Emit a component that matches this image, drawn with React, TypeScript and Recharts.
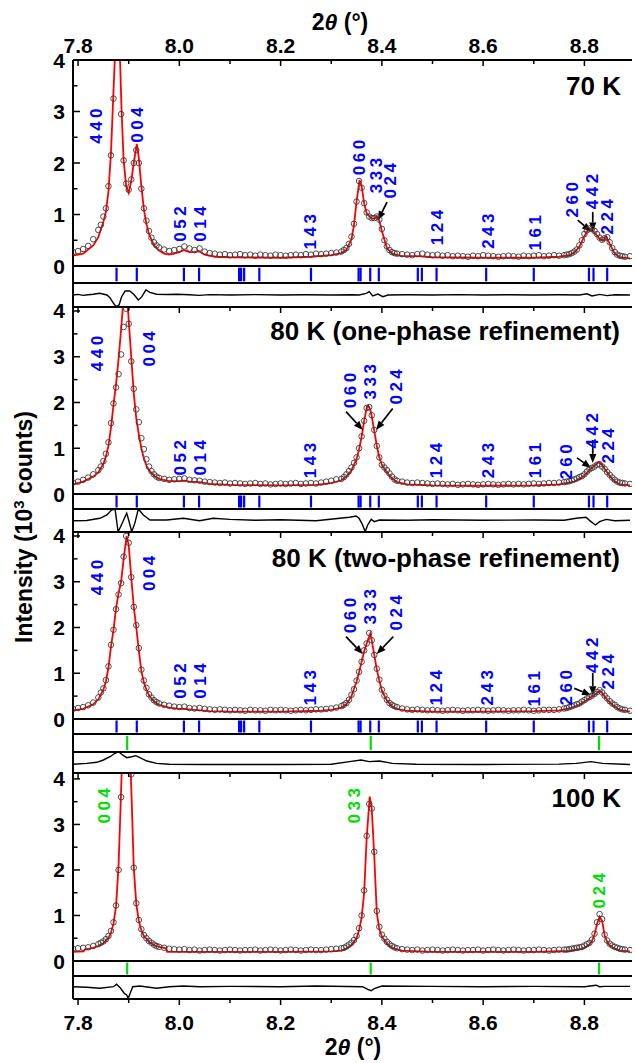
import React from "react";
import { ComposedChart, Line, Scatter, XAxis, YAxis, ReferenceLine } from "recharts";

const FONT = "'Liberation Sans', Arial, Helvetica, sans-serif";
const W = 636;
const X_DOMAIN: [number, number] = [7.79, 8.894];
const X_TICKS = [7.8, 7.9, 8.0, 8.1, 8.2, 8.3, 8.4, 8.5, 8.6, 8.7, 8.8];
const Y_TICKS = [0, 0.5, 1, 1.5, 2, 2.5, 3, 3.5, 4];
const BLUE = "#0000ff";
const GREEN = "#00dd00";
const RED = "#ff0000";

// 2theta grid of the observed points (finer around the peaks)
const THETA = [
  7.79, 7.8, 7.81, 7.82, 7.83,
  7.84, 7.845, 7.85, 7.855, 7.86, 7.865, 7.87, 7.875, 7.88, 7.885, 7.89, 7.895, 7.9, 7.905, 7.91, 7.915, 7.92, 7.925, 7.93, 7.935, 7.94, 7.945, 7.95, 7.955,
  7.96, 7.97, 7.98, 7.99, 8.0, 8.01, 8.02, 8.03, 8.04, 8.05, 8.06, 8.07, 8.08, 8.09, 8.1, 8.11, 8.12, 8.13, 8.14, 8.15, 8.16, 8.17, 8.18, 8.19, 8.2, 8.21, 8.22, 8.23, 8.24, 8.25, 8.26, 8.27, 8.28, 8.29, 8.3, 8.31,
  8.32, 8.325, 8.33, 8.335, 8.34, 8.345, 8.35, 8.355, 8.36, 8.365, 8.37, 8.375, 8.38, 8.385, 8.39, 8.395, 8.4, 8.405, 8.41, 8.415, 8.42, 8.425,
  8.43, 8.44, 8.45, 8.46, 8.47, 8.48, 8.49, 8.5, 8.51, 8.52, 8.53, 8.54, 8.55, 8.56, 8.57, 8.58, 8.59, 8.6, 8.61, 8.62, 8.63, 8.64, 8.65, 8.66, 8.67, 8.68, 8.69, 8.7, 8.71, 8.72, 8.73, 8.74, 8.75,
  8.76, 8.765, 8.77, 8.775, 8.78, 8.785, 8.79, 8.795, 8.8, 8.805, 8.81, 8.815, 8.82, 8.825, 8.83, 8.835, 8.84, 8.845, 8.85, 8.855, 8.86, 8.865, 8.87, 8.875,
  8.88, 8.89,
];

// observed intensities (10^3 counts) on THETA
const OBS_70K = [
  0.27, 0.29, 0.33, 0.39, 0.52,
  0.7, 0.8, 0.96, 1.12, 1.55, 2.15, 3.25, 4.3, 4.2, 2.95, 2.05, 1.6, 1.48, 1.68, 2.0, 2.25, 2.0, 1.5, 1.12, 0.88, 0.68, 0.55, 0.46, 0.4,
  0.36, 0.32, 0.29, 0.31, 0.33, 0.38, 0.34, 0.31, 0.34, 0.28, 0.25, 0.24, 0.22, 0.23, 0.21, 0.22, 0.23, 0.21, 0.22, 0.2, 0.22, 0.21, 0.2, 0.22, 0.21, 0.2, 0.21, 0.22, 0.21, 0.23, 0.22, 0.24, 0.23, 0.24, 0.25, 0.26,
  0.28, 0.31, 0.35, 0.43, 0.57, 0.82, 1.25, 1.65, 1.52, 1.22, 1.04, 0.96, 0.93, 0.93, 0.96, 0.9, 0.72, 0.5, 0.38, 0.31, 0.27, 0.25,
  0.24, 0.23, 0.22, 0.21, 0.23, 0.24, 0.22, 0.21, 0.22, 0.2, 0.21, 0.19, 0.2, 0.19, 0.18, 0.2, 0.19, 0.21, 0.2, 0.19, 0.18, 0.19, 0.2, 0.19, 0.18, 0.2, 0.19, 0.2, 0.21, 0.19, 0.2, 0.21, 0.2,
  0.21, 0.22, 0.23, 0.25, 0.28, 0.32, 0.4, 0.5, 0.62, 0.69, 0.73, 0.72, 0.68, 0.62, 0.55, 0.51, 0.54, 0.56, 0.46, 0.35, 0.27, 0.22, 0.2, 0.19,
  0.18, 0.19,
];
const OBS_80K_ONE = [
  0.25, 0.27, 0.31, 0.36, 0.43,
  0.52, 0.6, 0.72, 0.88, 1.13, 1.55, 1.98, 2.33, 2.62, 3.05, 3.65, 4.05, 3.72, 2.9, 2.3, 1.85, 1.57, 1.22, 0.98, 0.76, 0.6, 0.5, 0.43, 0.38,
  0.35, 0.33, 0.31, 0.32, 0.33, 0.34, 0.31, 0.3, 0.29, 0.27, 0.26, 0.25, 0.24, 0.25, 0.23, 0.24, 0.23, 0.22, 0.23, 0.24, 0.22, 0.23, 0.21, 0.22, 0.23, 0.22, 0.23, 0.24, 0.22, 0.23, 0.24, 0.23, 0.25, 0.27, 0.29, 0.32,
  0.33, 0.37, 0.43, 0.5, 0.58, 0.68, 0.8, 1.0, 1.26, 1.6, 1.88, 1.9, 1.72, 1.4, 1.05, 0.8, 0.64, 0.58, 0.52, 0.45, 0.38, 0.32,
  0.29, 0.27, 0.25, 0.24, 0.25, 0.24, 0.23, 0.22, 0.23, 0.22, 0.21, 0.22, 0.2, 0.21, 0.22, 0.21, 0.2, 0.21, 0.22, 0.21, 0.2, 0.21, 0.22, 0.21, 0.22, 0.21, 0.22, 0.23, 0.22, 0.23, 0.24, 0.24, 0.25,
  0.26, 0.27, 0.28, 0.3, 0.32, 0.34, 0.37, 0.39, 0.43, 0.49, 0.54, 0.57, 0.6, 0.64, 0.65, 0.6, 0.55, 0.48, 0.42, 0.36, 0.31, 0.27, 0.25, 0.24,
  0.23, 0.22,
];
const OBS_80K_TWO = [
  0.22, 0.24, 0.26, 0.3, 0.36,
  0.47, 0.58, 0.67, 0.85, 1.15, 1.62, 1.95, 2.4, 2.72, 2.97, 3.55, 4.0, 3.85, 3.1, 2.45, 2.05, 1.55, 1.08, 0.84, 0.68, 0.54, 0.47, 0.41, 0.37,
  0.34, 0.31, 0.29, 0.27, 0.26, 0.27, 0.24, 0.23, 0.24, 0.22, 0.21, 0.2, 0.21, 0.2, 0.19, 0.2, 0.19, 0.18, 0.2, 0.19, 0.19, 0.18, 0.2, 0.19, 0.2, 0.19, 0.18, 0.19, 0.2, 0.19, 0.2, 0.21, 0.21, 0.22, 0.23, 0.25,
  0.28, 0.31, 0.35, 0.42, 0.53, 0.65, 0.84, 1.03, 1.25, 1.5, 1.65, 1.88, 1.72, 1.4, 1.1, 0.86, 0.64, 0.51, 0.42, 0.35, 0.31, 0.28,
  0.26, 0.23, 0.21, 0.2, 0.21, 0.2, 0.19, 0.2, 0.19, 0.18, 0.19, 0.2, 0.19, 0.18, 0.19, 0.19, 0.2, 0.19, 0.18, 0.19, 0.2, 0.19, 0.18, 0.19, 0.19, 0.2, 0.19, 0.18, 0.19, 0.2, 0.2, 0.2, 0.21,
  0.23, 0.24, 0.26, 0.28, 0.3, 0.32, 0.34, 0.38, 0.41, 0.45, 0.48, 0.51, 0.55, 0.59, 0.63, 0.58, 0.51, 0.45, 0.39, 0.34, 0.31, 0.26, 0.23, 0.21,
  0.2, 0.18,
];
const OBS_100K = [
  0.27, 0.28, 0.29, 0.3, 0.33,
  0.37, 0.4, 0.43, 0.48, 0.55, 0.66, 0.85, 1.22, 2.0, 3.6, 4.6, 5.2, 4.9, 4.1, 2.05, 1.27, 0.9, 0.7, 0.57, 0.5, 0.44, 0.4, 0.36, 0.33,
  0.31, 0.29, 0.27, 0.26, 0.25, 0.26, 0.24, 0.25, 0.23, 0.24, 0.25, 0.24, 0.23, 0.24, 0.25, 0.24, 0.23, 0.24, 0.24, 0.25, 0.23, 0.24, 0.25, 0.24, 0.23, 0.24, 0.25, 0.24, 0.23, 0.24, 0.25, 0.24, 0.24, 0.25, 0.26, 0.27,
  0.28, 0.29, 0.32, 0.36, 0.4, 0.46, 0.55, 0.72, 1.0, 1.55, 2.75, 3.45, 3.35, 2.4, 1.1, 0.75, 0.58, 0.49, 0.42, 0.37, 0.33, 0.3,
  0.28, 0.26, 0.25, 0.24, 0.25, 0.23, 0.24, 0.25, 0.24, 0.23, 0.24, 0.25, 0.24, 0.23, 0.24, 0.24, 0.25, 0.23, 0.24, 0.25, 0.24, 0.23, 0.24, 0.25, 0.24, 0.23, 0.24, 0.24, 0.25, 0.24, 0.23, 0.24, 0.25,
  0.25, 0.25, 0.26, 0.27, 0.28, 0.29, 0.3, 0.31, 0.34, 0.37, 0.4, 0.47, 0.6, 0.85, 1.03, 0.92, 0.58, 0.45, 0.38, 0.34, 0.31, 0.29, 0.27, 0.26,
  0.25, 0.24,
];

// calculated profiles [2theta, I]
const CALC_70K = [
  [7.79, 0.2], [7.81, 0.24], [7.83, 0.4], [7.84, 0.56], [7.85, 0.86], [7.855, 1.05], [7.86, 1.45], [7.865, 2.2], [7.87, 3.4],
  [7.875, 4.6], [7.878, 4.8], [7.882, 4.3], [7.886, 3.0], [7.89, 2.05], [7.895, 1.55], [7.9, 1.42], [7.905, 1.65], [7.91, 2.0],
  [7.916, 2.37], [7.92, 2.1], [7.925, 1.55], [7.93, 1.1], [7.935, 0.82], [7.94, 0.62], [7.95, 0.4], [7.96, 0.3], [7.97, 0.24],
  [7.98, 0.22], [7.99, 0.24], [8.0, 0.27], [8.009, 0.31], [8.02, 0.27], [8.03, 0.27], [8.038, 0.29], [8.05, 0.22], [8.07, 0.18],
  [8.1, 0.17], [8.2, 0.16], [8.26, 0.18], [8.3, 0.21], [8.32, 0.25], [8.33, 0.31], [8.34, 0.52], [8.345, 0.8], [8.35, 1.25],
  [8.356, 1.67], [8.36, 1.55], [8.365, 1.22], [8.37, 1.02], [8.38, 0.92], [8.385, 0.92], [8.39, 0.97], [8.395, 0.88], [8.4, 0.68],
  [8.41, 0.35], [8.42, 0.24], [8.44, 0.19], [8.47, 0.19], [8.5, 0.17], [8.6, 0.16], [8.7, 0.16], [8.75, 0.18], [8.77, 0.21],
  [8.78, 0.26], [8.79, 0.37], [8.8, 0.58], [8.806, 0.68], [8.812, 0.72], [8.82, 0.65], [8.83, 0.53], [8.836, 0.49], [8.843, 0.57],
  [8.85, 0.43], [8.86, 0.24], [8.87, 0.17], [8.89, 0.15],
];
const CALC_80K_ONE = [
  [7.79, 0.21], [7.81, 0.27], [7.83, 0.38], [7.84, 0.47], [7.85, 0.66], [7.855, 0.82], [7.86, 1.05], [7.865, 1.45], [7.87, 1.95],
  [7.875, 2.4], [7.88, 2.95], [7.885, 3.6], [7.89, 4.3], [7.893, 4.5], [7.897, 4.3], [7.9, 3.8], [7.905, 3.0], [7.91, 2.2],
  [7.915, 1.65], [7.92, 1.3], [7.925, 1.0], [7.93, 0.78], [7.935, 0.62], [7.94, 0.52], [7.95, 0.4], [7.96, 0.33], [7.98, 0.28],
  [8.0, 0.28], [8.01, 0.29], [8.02, 0.27], [8.04, 0.26], [8.06, 0.22], [8.1, 0.2], [8.2, 0.19], [8.27, 0.2], [8.3, 0.24],
  [8.32, 0.3], [8.33, 0.38], [8.34, 0.52], [8.35, 0.76], [8.355, 0.98], [8.36, 1.25], [8.365, 1.6], [8.37, 1.88], [8.373, 1.93],
  [8.377, 1.85], [8.38, 1.7], [8.385, 1.38], [8.39, 1.05], [8.395, 0.8], [8.4, 0.64], [8.405, 0.55], [8.41, 0.47], [8.42, 0.34],
  [8.43, 0.26], [8.45, 0.21], [8.5, 0.19], [8.6, 0.18], [8.7, 0.19], [8.75, 0.21], [8.78, 0.27], [8.8, 0.4], [8.81, 0.52],
  [8.82, 0.62], [8.829, 0.7], [8.835, 0.64], [8.84, 0.55], [8.85, 0.39], [8.86, 0.27], [8.87, 0.21], [8.89, 0.19],
];
const CALC_80K_TWO = [
  [7.79, 0.19], [7.81, 0.22], [7.83, 0.32], [7.84, 0.43], [7.85, 0.64], [7.855, 0.82], [7.86, 1.12], [7.865, 1.58], [7.87, 1.95],
  [7.875, 2.42], [7.88, 2.75], [7.885, 3.0], [7.89, 3.5], [7.896, 4.0], [7.9, 3.8], [7.905, 3.1], [7.91, 2.45], [7.915, 2.0],
  [7.92, 1.5], [7.925, 1.05], [7.93, 0.8], [7.935, 0.64], [7.94, 0.52], [7.95, 0.38], [7.96, 0.31], [7.98, 0.25], [8.0, 0.22],
  [8.01, 0.22], [8.03, 0.2], [8.06, 0.17], [8.1, 0.16], [8.2, 0.16], [8.28, 0.18], [8.3, 0.2], [8.32, 0.25], [8.33, 0.32],
  [8.34, 0.5], [8.35, 0.82], [8.355, 1.02], [8.36, 1.25], [8.365, 1.48], [8.37, 1.65], [8.377, 1.87], [8.38, 1.72], [8.385, 1.4],
  [8.39, 1.08], [8.395, 0.84], [8.4, 0.62], [8.41, 0.4], [8.42, 0.28], [8.43, 0.22], [8.45, 0.18], [8.5, 0.16], [8.6, 0.16],
  [8.7, 0.17], [8.75, 0.19], [8.77, 0.23], [8.79, 0.31], [8.8, 0.38], [8.81, 0.46], [8.82, 0.53], [8.83, 0.62], [8.835, 0.57],
  [8.84, 0.49], [8.85, 0.36], [8.86, 0.27], [8.87, 0.2], [8.89, 0.16],
];
const CALC_100K = [
  [7.79, 0.2], [7.811, 0.21], [7.813, 0.25], [7.83, 0.29], [7.84, 0.33], [7.85, 0.39], [7.86, 0.5], [7.865, 0.62], [7.87, 0.82],
  [7.875, 1.2], [7.88, 2.1], [7.884, 3.4], [7.888, 4.8], [7.895, 5.6], [7.902, 4.8], [7.906, 3.5], [7.91, 2.05], [7.915, 1.25],
  [7.92, 0.88], [7.925, 0.67], [7.93, 0.55], [7.94, 0.42], [7.95, 0.35], [7.96, 0.31], [7.974, 0.28], [7.976, 0.2], [8.0, 0.2],
  [8.1, 0.2], [8.2, 0.2], [8.3, 0.21], [8.32, 0.23], [8.33, 0.27], [8.34, 0.35], [8.35, 0.5], [8.355, 0.68], [8.36, 0.95],
  [8.365, 1.5], [8.37, 2.7], [8.376, 3.61], [8.38, 3.35], [8.385, 2.3], [8.39, 1.05], [8.395, 0.7], [8.4, 0.54], [8.41, 0.38],
  [8.42, 0.29], [8.44, 0.23], [8.5, 0.2], [8.6, 0.2], [8.7, 0.2], [8.77, 0.22], [8.79, 0.26], [8.8, 0.29], [8.81, 0.36],
  [8.815, 0.44], [8.82, 0.58], [8.825, 0.82], [8.83, 0.97], [8.835, 0.88], [8.84, 0.56], [8.845, 0.42], [8.85, 0.34],
  [8.86, 0.27], [8.87, 0.23], [8.89, 0.21],
];

// difference curves [2theta, value in strip units, -1..1]
const DIFF_70K = [
  [7.79, 0.0], [7.8, 0.05], [7.81, -0.03], [7.82, 0.02], [7.83, 0.06], [7.843, 0.14], [7.857, 0.0], [7.863, -0.22], [7.87, -0.69],
  [7.875, -0.97], [7.881, -0.83], [7.886, -0.14], [7.893, 0.33], [7.902, 0.33], [7.91, 0.06], [7.919, -0.42], [7.926, -0.14],
  [7.934, 0.42], [7.942, 0.22], [7.955, 0.06], [7.975, 0.04], [7.995, 0.06], [8.02, 0.02], [8.04, -0.03], [8.06, 0.03], [8.1, 0.0],
  [8.15, 0.03], [8.2, 0.0], [8.25, 0.02], [8.3, 0.0], [8.34, 0.02], [8.355, 0.0], [8.369, 0.14], [8.375, 0.28], [8.382, -0.08],
  [8.392, 0.08], [8.402, -0.14], [8.412, 0.0], [8.45, 0.02], [8.5, 0.0], [8.55, 0.03], [8.6, 0.0], [8.65, 0.02], [8.7, 0.0],
  [8.75, 0.02], [8.79, 0.0], [8.805, 0.1], [8.815, -0.08], [8.83, 0.05], [8.845, -0.05], [8.86, 0.02], [8.89, 0.0],
];
const DIFF_80K_ONE = [
  [7.79, -0.02], [7.817, 0.0], [7.843, 0.19], [7.857, 0.48], [7.866, 0.91], [7.873, 1.0], [7.879, -0.97], [7.884, -0.54],
  [7.896, 0.63], [7.899, 0.19], [7.906, -0.97], [7.912, -0.25], [7.919, 1.0], [7.929, 0.48], [7.942, 0.04], [7.975, 0.04],
  [8.008, 0.19], [8.04, -0.02], [8.067, 0.19], [8.1, 0.1], [8.15, 0.02], [8.2, 0.06], [8.27, -0.02], [8.336, 0.28], [8.349, 0.39],
  [8.355, 0.19], [8.362, -0.39], [8.367, -0.97], [8.372, -0.39], [8.379, 0.1], [8.385, -0.1], [8.395, 0.04], [8.45, 0.02],
  [8.5, 0.06], [8.6, 0.02], [8.7, 0.04], [8.76, 0.02], [8.784, 0.19], [8.803, 0.28], [8.813, -0.1], [8.822, -0.39], [8.83, -0.1],
  [8.843, 0.1], [8.86, -0.02], [8.89, 0.02],
];
const DIFF_80K_TWO = [
  [7.79, -0.17], [7.817, -0.08], [7.837, 0.02], [7.85, 0.24], [7.863, 0.55], [7.873, 0.88], [7.88, 1.03], [7.886, 0.78],
  [7.896, 0.46], [7.906, 0.55], [7.914, 0.65], [7.922, 0.46], [7.936, 0.14], [7.955, -0.08], [7.98, -0.17], [8.05, -0.19],
  [8.2, -0.19], [8.3, -0.17], [8.336, 0.08], [8.359, 0.24], [8.375, 0.08], [8.395, 0.14], [8.421, -0.08], [8.468, -0.17],
  [8.6, -0.19], [8.75, -0.15], [8.784, -0.08], [8.813, 0.08], [8.836, -0.08], [8.876, -0.17], [8.89, -0.19],
];
const DIFF_100K = [
  [7.79, 0.07], [7.817, 0.02], [7.843, -0.07], [7.87, 0.07], [7.876, 0.28], [7.884, -0.07], [7.891, -0.5], [7.896, -0.65],
  [7.899, -0.94], [7.903, -0.5], [7.908, 0.07], [7.922, 0.13], [7.955, -0.07], [7.98, 0.07], [8.008, 0.13], [8.04, 0.07],
  [8.1, 0.1], [8.2, 0.07], [8.27, 0.13], [8.362, 0.07], [8.372, -0.16], [8.379, -0.28], [8.385, -0.1], [8.4, 0.13], [8.5, 0.1],
  [8.6, 0.07], [8.7, 0.1], [8.8, 0.07], [8.823, 0.2], [8.83, 0.07], [8.84, 0.1], [8.89, 0.1],
];

// Bragg reflection positions
const MAIN_PHASE_PEAKS = [
  7.876, 7.916, 8.009, 8.039, 8.118, 8.122, 8.128, 8.158, 8.26, 8.354, 8.358, 8.377, 8.394, 8.471, 8.479, 8.508, 8.606, 8.7,
  8.809, 8.818, 8.845,
];
const SECOND_PHASE_PEAKS = [7.897, 8.378, 8.829];

// hkl labels, placed at [2theta, I]
const HKL_70K = [
  { t: 7.836, v: 2.75, text: "440" }, { t: 7.9164, v: 2.77, text: "004" }, { t: 8.003, v: 0.85, text: "052" },
  { t: 8.0424, v: 0.85, text: "014" }, { t: 8.26, v: 0.7, text: "143" }, { t: 8.355, v: 2.14, text: "060" },
  { t: 8.3885, v: 1.79, text: "333" }, { t: 8.418, v: 1.69, text: "024" }, { t: 8.5103, v: 0.78, text: "124" },
  { t: 8.6097, v: 0.71, text: "243" }, { t: 8.7035, v: 0.68, text: "161" }, { t: 8.7756, v: 1.32, text: "260" },
  { t: 8.8157, v: 1.48, text: "442" }, { t: 8.8453, v: 0.99, text: "224" },
];
const HKL_80K_ONE = [
  { t: 7.839, v: 3.11, text: "440" }, { t: 7.942, v: 3.21, text: "004" }, { t: 8.0033, v: 0.83, text: "052" },
  { t: 8.0424, v: 0.83, text: "014" }, { t: 8.26, v: 0.77, text: "143" }, { t: 8.3371, v: 2.3, text: "060" },
  { t: 8.3782, v: 2.49, text: "333" }, { t: 8.428, v: 2.38, text: "024" }, { t: 8.5083, v: 0.77, text: "124" },
  { t: 8.6097, v: 0.77, text: "243" }, { t: 8.7025, v: 0.77, text: "161" }, { t: 8.7637, v: 0.74, text: "260" },
  { t: 8.8157, v: 1.42, text: "442" }, { t: 8.8467, v: 1.09, text: "224" },
];
const HKL_80K_TWO = [
  { t: 7.839, v: 3.13, text: "440" }, { t: 7.942, v: 3.22, text: "004" }, { t: 8.0033, v: 0.87, text: "052" },
  { t: 8.0424, v: 0.87, text: "014" }, { t: 8.26, v: 0.72, text: "143" }, { t: 8.3377, v: 2.3, text: "060" },
  { t: 8.3782, v: 2.49, text: "333" }, { t: 8.428, v: 2.36, text: "024" }, { t: 8.5083, v: 0.72, text: "124" },
  { t: 8.6077, v: 0.72, text: "243" }, { t: 8.7005, v: 0.7, text: "161" }, { t: 8.7637, v: 0.72, text: "260" },
  { t: 8.8157, v: 1.43, text: "442" }, { t: 8.8467, v: 1.07, text: "224" },
];
const HKL_100K = [
  { t: 7.8532, v: 3.45, text: "004" }, { t: 8.345, v: 3.45, text: "033" }, { t: 8.829, v: 1.58, text: "024" },
];

// arrows [2theta from, I from, 2theta to, I to]
const ARROWS_70K = [
  [8.4102, 1.24, 8.3924, 0.89], [8.7868, 0.89, 8.8131, 0.67], [8.8165, 1.05, 8.8165, 0.67],
];
const ARROWS_80K_ONE = [
  [8.3292, 1.8, 8.3622, 1.4], [8.4214, 1.87, 8.3885, 1.4], [8.8165, 1.18, 8.8165, 0.68], [8.7855, 0.79, 8.8131, 0.57],
];
const ARROWS_80K_TWO = [
  [8.3292, 1.8, 8.3622, 1.42], [8.4226, 1.8, 8.3898, 1.42], [8.8165, 1.01, 8.8165, 0.52], [8.7801, 0.67, 8.8131, 0.52],
];

const obsRows = (vals: number[]) => THETA.map((t, i) => ({ t, v: vals[i] }));
const pairRows = (pairs: number[][]) => pairs.map(([t, v]) => ({ t, v }));

const axisLine = { stroke: "#000", strokeWidth: 2 };
const isMajorX = (v: number) => Math.round(v * 10) % 2 === 0;
const isMajorY = (v: number) => Math.abs(v - Math.round(v)) < 1e-6;

const TopTick = (p: any, withLabel: boolean) => {
  const v = p.payload.value;
  const major = isMajorX(v);
  return (
    <g>
      <line x1={p.x} x2={p.x} y1={p.y} y2={p.y + (major ? 6 : 4)} stroke="#000" strokeWidth={1.5} />
      {withLabel && major ? (
        <text x={p.x} y={p.y - 7} textAnchor="middle" fontSize={21} fontWeight="bold" fontFamily={FONT} fill="#000">
          {v.toFixed(1)}
        </text>
      ) : null}
    </g>
  );
};

const BottomTick = (p: any) => {
  const v = p.payload.value;
  const major = isMajorX(v);
  return (
    <g>
      <line x1={p.x} x2={p.x} y1={p.y} y2={p.y + (major ? 6 : 4)} stroke="#000" strokeWidth={1.5} />
      {major ? (
        <text x={p.x} y={p.y + 31} textAnchor="middle" fontSize={21} fontWeight="bold" fontFamily={FONT} fill="#000">
          {v.toFixed(1)}
        </text>
      ) : null}
    </g>
  );
};

const LeftTick = (p: any) => {
  const v = p.payload.value;
  const major = isMajorY(v);
  return (
    <g>
      <line x1={p.x} x2={p.x + (major ? 7 : 4.5)} y1={p.y} y2={p.y} stroke="#000" strokeWidth={1.5} />
      {major ? (
        <text x={p.x - 8} y={p.y + 7.5} textAnchor="end" fontSize={21} fontWeight="bold" fontFamily={FONT} fill="#000">
          {v}
        </text>
      ) : null}
    </g>
  );
};

const RightTick = (p: any) => {
  const major = isMajorY(p.payload.value);
  return <line x1={p.x} x2={p.x - (major ? 7 : 4.5)} y1={p.y} y2={p.y} stroke="#000" strokeWidth={1.5} />;
};

const ObsCircle = (p: any) => (
  <circle cx={p.cx} cy={p.cy} r={2.8} fill="none" stroke="#3a3a3a" strokeWidth={0.9} />
);

const hklShape = (color: string) => (p: any) => (
  <text
    x={p.cx}
    y={p.cy}
    transform={`rotate(-90 ${p.cx} ${p.cy})`}
    textAnchor="middle"
    dominantBaseline="central"
    fontSize={17}
    fontWeight="bold"
    fontFamily={FONT}
    letterSpacing={3.5}
    fill={color}
  >
    {p.payload.text}
  </text>
);

const ArrowShape = (p: any) => {
  const { x1, y1, x2, y2 } = p;
  const ang = Math.atan2(y2 - y1, x2 - x1);
  const len = 9;
  const half = 3.6;
  const bx = x2 - len * Math.cos(ang);
  const by = y2 - len * Math.sin(ang);
  const pts = `${x2},${y2} ${bx - half * Math.sin(ang)},${by + half * Math.cos(ang)} ${bx + half * Math.sin(ang)},${by - half * Math.cos(ang)}`;
  return (
    <g>
      <line x1={x1} y1={y1} x2={bx} y2={by} stroke="#000" strokeWidth={1.7} />
      <polygon points={pts} fill="#000" />
    </g>
  );
};

interface FrameProps {
  top: number;
  plotH: number;
  padTop?: number;
  padBottom?: number;
  yDomain: [number, number];
  topTick?: any;
  bottomTick?: any;
  sideTicks?: boolean;
  children?: React.ReactNode;
}

const Frame = ({ top, plotH, padTop = 4, padBottom = 4, yDomain, topTick, bottomTick, sideTicks, children }: FrameProps) => (
  <div style={{ position: "absolute", left: 0, top: top - padTop }}>
    <ComposedChart width={W} height={plotH + padTop + padBottom} margin={{ top: 0, right: 4, bottom: 0, left: 0 }}>
      <XAxis
        xAxisId="t"
        orientation="top"
        type="number"
        dataKey="t"
        domain={X_DOMAIN}
        allowDataOverflow
        ticks={X_TICKS}
        interval={0}
        height={padTop}
        tickSize={0}
        tickMargin={0}
        tickLine={false}
        axisLine={axisLine}
        tick={topTick ?? false}
      />
      <XAxis
        xAxisId="b"
        orientation="bottom"
        type="number"
        dataKey="t"
        domain={X_DOMAIN}
        allowDataOverflow
        ticks={X_TICKS}
        interval={0}
        height={padBottom}
        tickSize={0}
        tickMargin={0}
        tickLine={false}
        axisLine={axisLine}
        tick={bottomTick ?? false}
      />
      <YAxis
        yAxisId="l"
        orientation="left"
        type="number"
        domain={yDomain}
        allowDataOverflow
        ticks={sideTicks ? Y_TICKS : undefined}
        interval={0}
        width={73}
        tickSize={0}
        tickMargin={0}
        tickLine={false}
        axisLine={axisLine}
        tick={sideTicks ? LeftTick : false}
      />
      <YAxis
        yAxisId="r"
        orientation="right"
        type="number"
        domain={yDomain}
        allowDataOverflow
        ticks={sideTicks ? Y_TICKS : undefined}
        interval={0}
        width={0}
        tickSize={0}
        tickMargin={0}
        tickLine={false}
        axisLine={axisLine}
        tick={sideTicks ? RightTick : false}
      />
      {children}
    </ComposedChart>
  </div>
);

const mainSeries = (obs: number[], calc: number[][], hkl: { t: number; v: number; text: string }[], color: string, arrows: number[][]) => [
  <Scatter key="obs" xAxisId="t" yAxisId="l" data={obsRows(obs)} dataKey="v" shape={ObsCircle} isAnimationActive={false} />,
  <Line
    key="calc"
    xAxisId="t"
    yAxisId="l"
    data={pairRows(calc)}
    dataKey="v"
    stroke={RED}
    strokeWidth={1.8}
    dot={false}
    activeDot={false}
    isAnimationActive={false}
  />,
  ...arrows.map((a, i) => (
    <ReferenceLine
      key={`arrow-${i}`}
      xAxisId="t"
      yAxisId="l"
      segment={[{ x: a[0], y: a[1] }, { x: a[2], y: a[3] }]}
      shape={ArrowShape}
    />
  )),
  <Scatter key="hkl" xAxisId="t" yAxisId="l" data={hkl} dataKey="v" shape={hklShape(color)} isAnimationActive={false} />,
];

const braggSeries = (peaks: number[], color: string) =>
  peaks.map((p, i) => (
    <ReferenceLine
      key={`bragg-${i}`}
      xAxisId="t"
      yAxisId="l"
      segment={[{ x: p, y: 0.1 }, { x: p, y: 0.9 }]}
      stroke={color}
      strokeWidth={2.2}
    />
  ));

const diffSeries = (diff: number[][]) => (
  <Line
    xAxisId="t"
    yAxisId="l"
    data={pairRows(diff)}
    dataKey="v"
    stroke="#000"
    strokeWidth={1.4}
    dot={false}
    activeDot={false}
    isAnimationActive={false}
  />
);

const titleStyle = { fontSize: 26, fontWeight: "bold" as const, fontFamily: FONT, fill: "#000" };

export default function App() {
  return (
    <div style={{ position: "absolute", left: 0, top: 0, width: W, height: 1063, background: "#fff", fontFamily: FONT }}>
      {/* 70 K */}
      <Frame top={60} plotH={206} padTop={60} padBottom={14} yDomain={[0, 4]} sideTicks topTick={(p: any) => TopTick(p, true)}>
        {mainSeries(OBS_70K, CALC_70K, HKL_70K, BLUE, ARROWS_70K)}
      </Frame>
      <Frame top={266} plotH={17} yDomain={[0, 1]}>
        {braggSeries(MAIN_PHASE_PEAKS, BLUE)}
      </Frame>
      <Frame top={283} plotH={24} yDomain={[-1, 1]}>
        {diffSeries(DIFF_70K)}
      </Frame>

      {/* 80 K one-phase */}
      <Frame top={307} plotH={187} padTop={12} padBottom={14} yDomain={[0, 4.087]} sideTicks topTick={(p: any) => TopTick(p, false)}>
        {mainSeries(OBS_80K_ONE, CALC_80K_ONE, HKL_80K_ONE, BLUE, ARROWS_80K_ONE)}
      </Frame>
      <Frame top={494} plotH={15} yDomain={[0, 1]}>
        {braggSeries(MAIN_PHASE_PEAKS, BLUE)}
      </Frame>
      <Frame top={509} plotH={23} yDomain={[-1, 1]}>
        {diffSeries(DIFF_80K_ONE)}
      </Frame>

      {/* 80 K two-phase */}
      <Frame top={532} plotH={187} padTop={12} padBottom={14} yDomain={[0, 4.087]} sideTicks topTick={(p: any) => TopTick(p, false)}>
        {mainSeries(OBS_80K_TWO, CALC_80K_TWO, HKL_80K_TWO, BLUE, ARROWS_80K_TWO)}
      </Frame>
      <Frame top={719} plotH={15} yDomain={[0, 1]}>
        {braggSeries(MAIN_PHASE_PEAKS, BLUE)}
      </Frame>
      <Frame top={734} plotH={18} yDomain={[0, 1]}>
        {braggSeries(SECOND_PHASE_PEAKS, GREEN)}
      </Frame>
      <Frame top={752} plotH={21} yDomain={[-1, 1]}>
        {diffSeries(DIFF_80K_TWO)}
      </Frame>

      {/* 100 K */}
      <Frame top={773} plotH={188} padTop={12} padBottom={14} yDomain={[0, 4.13]} sideTicks topTick={(p: any) => TopTick(p, false)}>
        {mainSeries(OBS_100K, CALC_100K, HKL_100K, GREEN, [])}
      </Frame>
      <Frame top={961} plotH={15} yDomain={[0, 1]}>
        {braggSeries(SECOND_PHASE_PEAKS, GREEN)}
      </Frame>
      <Frame top={976} plotH={23} padBottom={40} yDomain={[-1, 1]} bottomTick={BottomTick}>
        {diffSeries(DIFF_100K)}
      </Frame>

      <svg width={W} height={1063} style={{ position: "absolute", left: 0, top: 0, pointerEvents: "none" }}>
        <text x={340} y={30} textAnchor="middle" fontSize={23} fontWeight="bold" fontFamily={FONT}>
          2<tspan fontStyle="italic">θ</tspan> (°)
        </text>
        <text x={353} y={1055} textAnchor="middle" fontSize={23} fontWeight="bold" fontFamily={FONT}>
          2<tspan fontStyle="italic">θ</tspan> (°)
        </text>
        <text x={32} y={527} transform="rotate(-90 32 527)" textAnchor="middle" fontSize={23} fontWeight="bold" fontFamily={FONT}>
          Intensity (10<tspan dy={-8} fontSize={15}>3</tspan>
          <tspan dy={8}> counts)</tspan>
        </text>
        <text x={621} y={95} textAnchor="end" {...titleStyle}>70 K</text>
        <text x={620} y={340} textAnchor="end" {...titleStyle}>80 K (one-phase refinement)</text>
        <text x={620} y={567} textAnchor="end" {...titleStyle}>80 K (two-phase refinement)</text>
        <text x={621} y={807} textAnchor="end" {...titleStyle}>100 K</text>
      </svg>
    </div>
  );
}
